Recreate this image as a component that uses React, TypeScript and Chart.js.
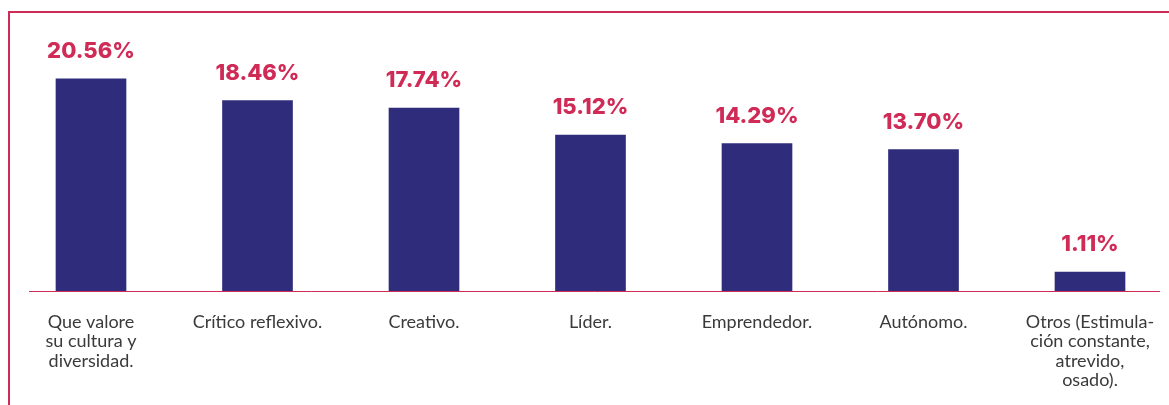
import React, { useEffect, useRef } from "react";
import { Chart, registerables } from "chart.js";

Chart.register(...registerables);

const categories: (string | string[])[] = [
  ["Que valore", "su cultura y", "diversidad."],
  "Crítico reflexivo.",
  "Creativo.",
  "Líder.",
  "Emprendedor.",
  "Autónomo.",
  ["Otros (Estimula-", "ción constante,", "atrevido,", "osado)."],
];
const values: number[] = [20.56, 18.46, 17.74, 15.12, 14.29, 13.7, 1.11];
const valueLabels: string[] = ["20.56%", "18.46%", "17.74%", "15.12%", "14.29%", "13.70%", "1.11%"];

const NAVY = "#2e2c7b";
const CRIMSON = "#d02b56";

const decorPlugin = {
  id: "decor",
  beforeDraw(chart: any) {
    const { ctx, width, height } = chart;
    ctx.save();
    ctx.fillStyle = "#ffffff";
    ctx.fillRect(0, 0, width, height);
    ctx.fillStyle = CRIMSON;
    ctx.fillRect(8, 11, width - 8, 2);
    ctx.fillRect(8, 11, 2, height - 11);
    ctx.restore();
  },
  afterDatasetsDraw(chart: any) {
    const { ctx, chartArea } = chart;
    ctx.save();
    ctx.strokeStyle = CRIMSON;
    ctx.lineWidth = 1;
    ctx.beginPath();
    ctx.moveTo(chartArea.left - 62, chartArea.bottom + 0.5);
    ctx.lineTo(chartArea.right + 70, chartArea.bottom + 0.5);
    ctx.stroke();

    const meta = chart.getDatasetMeta(0);
    ctx.fillStyle = CRIMSON;
    ctx.font = "800 22px Inter";
    ctx.textAlign = "center";
    ctx.textBaseline = "alphabetic";
    meta.data.forEach((bar: any, i: number) => {
      ctx.fillText(valueLabels[i], bar.x, bar.y - 21);
    });
    ctx.restore();
  },
};

export default function App() {
  const ref = useRef<HTMLCanvasElement | null>(null);
  useEffect(() => {
    if (!ref.current) return;
    const chart = new Chart(ref.current, {
      type: "bar",
      data: {
        labels: categories,
        datasets: [
          {
            data: values,
            backgroundColor: NAVY,
            barThickness: 70,
            minBarLength: 19,
            borderWidth: 0,
            clip: false,
          },
        ],
      },
      options: {
        animation: false,
        responsive: false,
        devicePixelRatio: 1,
        layout: { padding: { left: 91, right: 79, top: 64, bottom: 15 } },
        plugins: { legend: { display: false }, tooltip: { enabled: false } },
        scales: {
          x: {
            offset: false,
            grid: { display: false, drawTicks: false },
            border: { display: false },
            afterFit: (scale: any) => {
              scale.height = 99;
              scale.paddingLeft = 0;
              scale.paddingRight = 0;
            },
            ticks: {
              padding: 21,
              autoSkip: false,
              maxRotation: 0,
              color: "#3a3a3a",
              font: { family: "Lato", size: 18, lineHeight: "19.5px" },
            },
          },
          y: {
            display: false,
            min: 0,
            max: 22,
            grid: { display: false },
          },
        },
      },
      plugins: [decorPlugin],
    });
    return () => chart.destroy();
  }, []);
  return (
    <div style={{ position: "fixed", left: 0, top: 0, width: 1169, height: 405, background: "#fff" }}>
      <canvas ref={ref} width={1169} height={405} />
    </div>
  );
}
